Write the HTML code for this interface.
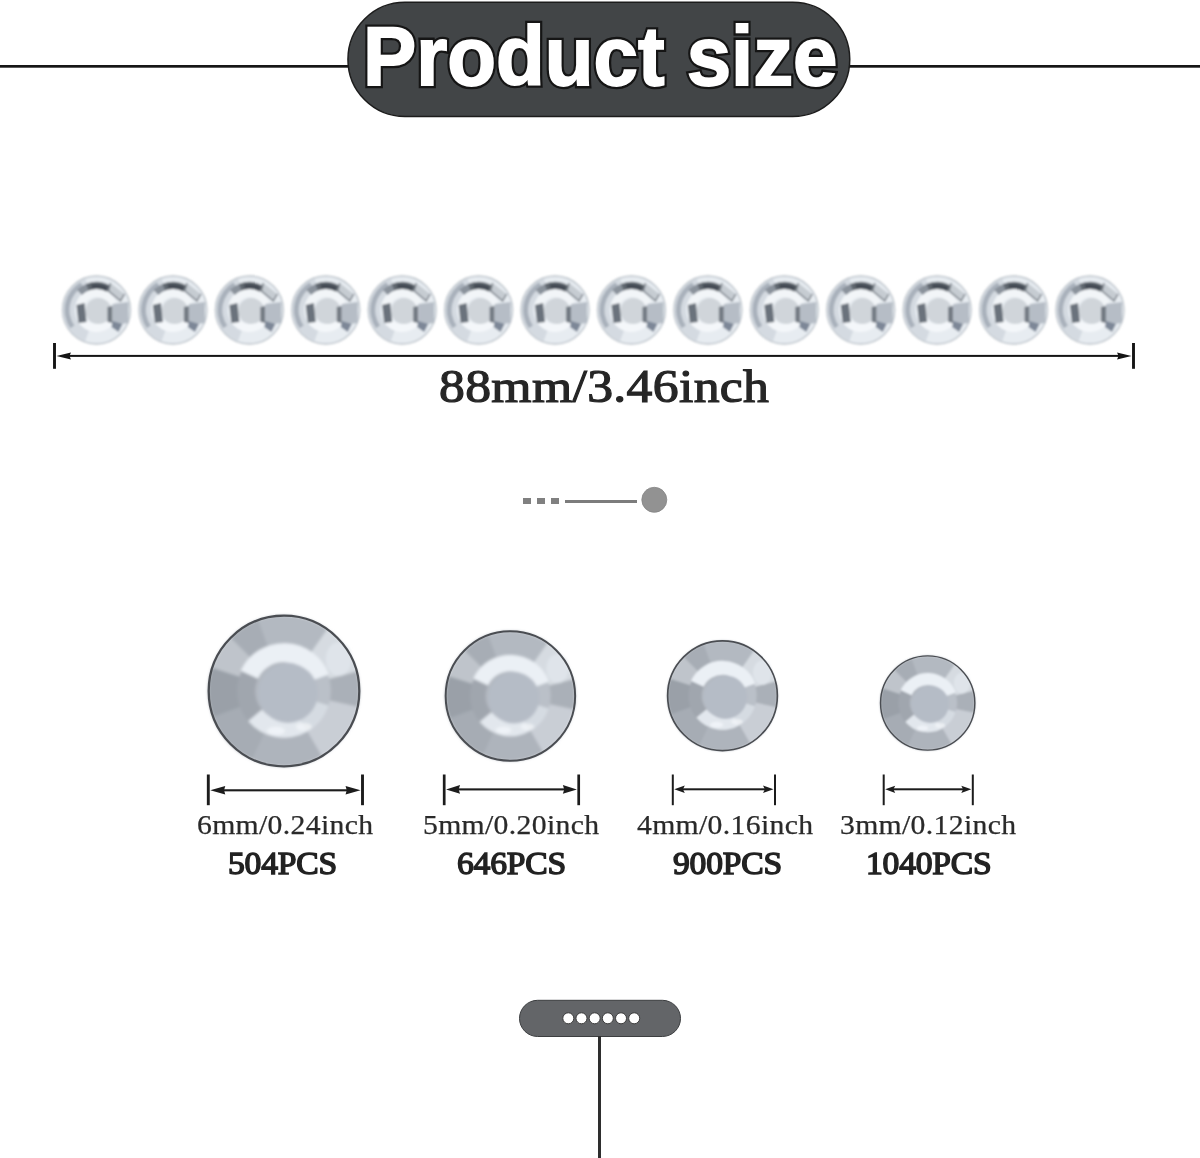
<!DOCTYPE html>
<html><head><meta charset="utf-8">
<style>
html,body{margin:0;padding:0;background:#fff;}
body{width:1200px;height:1158px;position:relative;overflow:hidden;font-family:"Liberation Serif",serif;}
.abs{position:absolute;}
.ttext{position:absolute;font-family:"Liberation Sans",sans-serif;font-weight:bold;font-size:84px;color:#fff;white-space:nowrap;-webkit-text-stroke:2.4px #111;transform:scaleX(0.950);transform-origin:0 0;paint-order:stroke fill;line-height:1;}
.lbl{position:absolute;white-space:nowrap;color:#2a2a2a;line-height:1;transform-origin:0 0;}
.big{font-size:47px;font-weight:normal;color:#262626;letter-spacing:0.3px;-webkit-text-stroke:1.2px #262626;transform:scaleX(1.1);}
.small{font-size:26.5px;letter-spacing:0.3px;transform:scaleX(1.12);-webkit-text-stroke:0.25px #2a2a2a;}
.pcs{font-size:32px;font-weight:normal;color:#222;letter-spacing:-0.2px;-webkit-text-stroke:1.4px #222;transform:scaleX(1.05);}
</style></head><body>
<svg class="abs" style="left:0;top:0" width="1200" height="1158" viewBox="0 0 1200 1158">
<defs>
<filter id="blur1" x="-20%" y="-20%" width="140%" height="140%"><feGaussianBlur stdDeviation="0.9"/></filter>
<filter id="blur2" x="-20%" y="-20%" width="140%" height="140%"><feGaussianBlur stdDeviation="1.6"/></filter>
</defs>
<rect x="0" y="65" width="360" height="2.7" fill="#161616"/><rect x="840" y="65" width="360" height="2.7" fill="#161616"/><rect x="347.95" y="2.35" width="501.8" height="114.1" rx="57" fill="#424547" stroke="#1c1c1c" stroke-width="1.5"/><g transform="translate(96.50,310)">
 <g filter="url(#blur1)">
 <circle cx="0" cy="0" r="34" fill="#e7ecf1" stroke="#bcc3ca" stroke-width="1.3"/>
 <path d="M-11.29,31.01 A33,33 0 0 1 -11.29,-31.01 L-7.52,-20.67 A22,22 0 0 0 -7.52,20.67Z" fill="#d4dae1"/>
 <path d="M-26.21,18.35 A32,32 0 0 1 -16.00,-27.71 L-13.50,-23.38 A27,27 0 0 0 -22.12,15.49Z" fill="#a9b1bb"/>
 <path d="M-20.68,-3.65 A21,21 0 0 1 19.73,-7.18 L12.22,-4.45 A13,13 0 0 0 -12.80,-2.26Z" fill="#f2f5f8"/>
 <path d="M16.85,14.14 A22,22 0 0 1 -19.05,11.00 L-12.12,7.00 A14,14 0 0 0 10.72,9.00Z" fill="#f4f7fa"/>
 <path d="M-19.45,-20.14 A28,28 0 0 1 -9.58,-26.31 L-7.18,-19.73 A21,21 0 0 0 -14.59,-15.11Z" fill="#8a929b"/>
 <path d="M-10.49,-25.96 A28,28 0 0 1 14.00,-24.25 L10.50,-18.19 A21,21 0 0 0 -7.87,-19.47Z" fill="#5f666e"/>
 <path d="M-5.41,-25.43 A26,26 0 0 1 11.40,-23.37 L9.64,-19.77 A22,22 0 0 0 -4.57,-21.52Z" fill="#434a52"/>
 <polygon points="14,-27 28,-16 24,-9 12,-19" fill="#c6ccd2"/>
 <polyline points="14,-27 12,-19 24,-9 28,-16" fill="none" stroke="#737a82" stroke-width="1.4"/>
 <circle cx="2" cy="1" r="13" fill="#d0d5da"/>
 <polygon points="-20,-5 -12,-7 -10,12 -18,13" fill="#6b727b"/>
 <polygon points="11,-3 16,-4 16,13 11,12" fill="#737a83"/>
 <polygon points="16,-6 32,-8 32,13 16,15" fill="#b6bdc6"/>
 <polygon points="16,11 26,14 22,22 15,17" fill="#7d8797"/>
 </g>
</g><g transform="translate(172.92,310)">
 <g filter="url(#blur1)">
 <circle cx="0" cy="0" r="34" fill="#e7ecf1" stroke="#bcc3ca" stroke-width="1.3"/>
 <path d="M-11.29,31.01 A33,33 0 0 1 -11.29,-31.01 L-7.52,-20.67 A22,22 0 0 0 -7.52,20.67Z" fill="#d4dae1"/>
 <path d="M-26.21,18.35 A32,32 0 0 1 -16.00,-27.71 L-13.50,-23.38 A27,27 0 0 0 -22.12,15.49Z" fill="#a9b1bb"/>
 <path d="M-20.68,-3.65 A21,21 0 0 1 19.73,-7.18 L12.22,-4.45 A13,13 0 0 0 -12.80,-2.26Z" fill="#f2f5f8"/>
 <path d="M16.85,14.14 A22,22 0 0 1 -19.05,11.00 L-12.12,7.00 A14,14 0 0 0 10.72,9.00Z" fill="#f4f7fa"/>
 <path d="M-19.45,-20.14 A28,28 0 0 1 -9.58,-26.31 L-7.18,-19.73 A21,21 0 0 0 -14.59,-15.11Z" fill="#8a929b"/>
 <path d="M-10.49,-25.96 A28,28 0 0 1 14.00,-24.25 L10.50,-18.19 A21,21 0 0 0 -7.87,-19.47Z" fill="#5f666e"/>
 <path d="M-5.41,-25.43 A26,26 0 0 1 11.40,-23.37 L9.64,-19.77 A22,22 0 0 0 -4.57,-21.52Z" fill="#434a52"/>
 <polygon points="14,-27 28,-16 24,-9 12,-19" fill="#c6ccd2"/>
 <polyline points="14,-27 12,-19 24,-9 28,-16" fill="none" stroke="#737a82" stroke-width="1.4"/>
 <circle cx="2" cy="1" r="13" fill="#d0d5da"/>
 <polygon points="-20,-5 -12,-7 -10,12 -18,13" fill="#6b727b"/>
 <polygon points="11,-3 16,-4 16,13 11,12" fill="#737a83"/>
 <polygon points="16,-6 32,-8 32,13 16,15" fill="#b6bdc6"/>
 <polygon points="16,11 26,14 22,22 15,17" fill="#7d8797"/>
 </g>
</g><g transform="translate(249.35,310)">
 <g filter="url(#blur1)">
 <circle cx="0" cy="0" r="34" fill="#e7ecf1" stroke="#bcc3ca" stroke-width="1.3"/>
 <path d="M-11.29,31.01 A33,33 0 0 1 -11.29,-31.01 L-7.52,-20.67 A22,22 0 0 0 -7.52,20.67Z" fill="#d4dae1"/>
 <path d="M-26.21,18.35 A32,32 0 0 1 -16.00,-27.71 L-13.50,-23.38 A27,27 0 0 0 -22.12,15.49Z" fill="#a9b1bb"/>
 <path d="M-20.68,-3.65 A21,21 0 0 1 19.73,-7.18 L12.22,-4.45 A13,13 0 0 0 -12.80,-2.26Z" fill="#f2f5f8"/>
 <path d="M16.85,14.14 A22,22 0 0 1 -19.05,11.00 L-12.12,7.00 A14,14 0 0 0 10.72,9.00Z" fill="#f4f7fa"/>
 <path d="M-19.45,-20.14 A28,28 0 0 1 -9.58,-26.31 L-7.18,-19.73 A21,21 0 0 0 -14.59,-15.11Z" fill="#8a929b"/>
 <path d="M-10.49,-25.96 A28,28 0 0 1 14.00,-24.25 L10.50,-18.19 A21,21 0 0 0 -7.87,-19.47Z" fill="#5f666e"/>
 <path d="M-5.41,-25.43 A26,26 0 0 1 11.40,-23.37 L9.64,-19.77 A22,22 0 0 0 -4.57,-21.52Z" fill="#434a52"/>
 <polygon points="14,-27 28,-16 24,-9 12,-19" fill="#c6ccd2"/>
 <polyline points="14,-27 12,-19 24,-9 28,-16" fill="none" stroke="#737a82" stroke-width="1.4"/>
 <circle cx="2" cy="1" r="13" fill="#d0d5da"/>
 <polygon points="-20,-5 -12,-7 -10,12 -18,13" fill="#6b727b"/>
 <polygon points="11,-3 16,-4 16,13 11,12" fill="#737a83"/>
 <polygon points="16,-6 32,-8 32,13 16,15" fill="#b6bdc6"/>
 <polygon points="16,11 26,14 22,22 15,17" fill="#7d8797"/>
 </g>
</g><g transform="translate(325.77,310)">
 <g filter="url(#blur1)">
 <circle cx="0" cy="0" r="34" fill="#e7ecf1" stroke="#bcc3ca" stroke-width="1.3"/>
 <path d="M-11.29,31.01 A33,33 0 0 1 -11.29,-31.01 L-7.52,-20.67 A22,22 0 0 0 -7.52,20.67Z" fill="#d4dae1"/>
 <path d="M-26.21,18.35 A32,32 0 0 1 -16.00,-27.71 L-13.50,-23.38 A27,27 0 0 0 -22.12,15.49Z" fill="#a9b1bb"/>
 <path d="M-20.68,-3.65 A21,21 0 0 1 19.73,-7.18 L12.22,-4.45 A13,13 0 0 0 -12.80,-2.26Z" fill="#f2f5f8"/>
 <path d="M16.85,14.14 A22,22 0 0 1 -19.05,11.00 L-12.12,7.00 A14,14 0 0 0 10.72,9.00Z" fill="#f4f7fa"/>
 <path d="M-19.45,-20.14 A28,28 0 0 1 -9.58,-26.31 L-7.18,-19.73 A21,21 0 0 0 -14.59,-15.11Z" fill="#8a929b"/>
 <path d="M-10.49,-25.96 A28,28 0 0 1 14.00,-24.25 L10.50,-18.19 A21,21 0 0 0 -7.87,-19.47Z" fill="#5f666e"/>
 <path d="M-5.41,-25.43 A26,26 0 0 1 11.40,-23.37 L9.64,-19.77 A22,22 0 0 0 -4.57,-21.52Z" fill="#434a52"/>
 <polygon points="14,-27 28,-16 24,-9 12,-19" fill="#c6ccd2"/>
 <polyline points="14,-27 12,-19 24,-9 28,-16" fill="none" stroke="#737a82" stroke-width="1.4"/>
 <circle cx="2" cy="1" r="13" fill="#d0d5da"/>
 <polygon points="-20,-5 -12,-7 -10,12 -18,13" fill="#6b727b"/>
 <polygon points="11,-3 16,-4 16,13 11,12" fill="#737a83"/>
 <polygon points="16,-6 32,-8 32,13 16,15" fill="#b6bdc6"/>
 <polygon points="16,11 26,14 22,22 15,17" fill="#7d8797"/>
 </g>
</g><g transform="translate(402.19,310)">
 <g filter="url(#blur1)">
 <circle cx="0" cy="0" r="34" fill="#e7ecf1" stroke="#bcc3ca" stroke-width="1.3"/>
 <path d="M-11.29,31.01 A33,33 0 0 1 -11.29,-31.01 L-7.52,-20.67 A22,22 0 0 0 -7.52,20.67Z" fill="#d4dae1"/>
 <path d="M-26.21,18.35 A32,32 0 0 1 -16.00,-27.71 L-13.50,-23.38 A27,27 0 0 0 -22.12,15.49Z" fill="#a9b1bb"/>
 <path d="M-20.68,-3.65 A21,21 0 0 1 19.73,-7.18 L12.22,-4.45 A13,13 0 0 0 -12.80,-2.26Z" fill="#f2f5f8"/>
 <path d="M16.85,14.14 A22,22 0 0 1 -19.05,11.00 L-12.12,7.00 A14,14 0 0 0 10.72,9.00Z" fill="#f4f7fa"/>
 <path d="M-19.45,-20.14 A28,28 0 0 1 -9.58,-26.31 L-7.18,-19.73 A21,21 0 0 0 -14.59,-15.11Z" fill="#8a929b"/>
 <path d="M-10.49,-25.96 A28,28 0 0 1 14.00,-24.25 L10.50,-18.19 A21,21 0 0 0 -7.87,-19.47Z" fill="#5f666e"/>
 <path d="M-5.41,-25.43 A26,26 0 0 1 11.40,-23.37 L9.64,-19.77 A22,22 0 0 0 -4.57,-21.52Z" fill="#434a52"/>
 <polygon points="14,-27 28,-16 24,-9 12,-19" fill="#c6ccd2"/>
 <polyline points="14,-27 12,-19 24,-9 28,-16" fill="none" stroke="#737a82" stroke-width="1.4"/>
 <circle cx="2" cy="1" r="13" fill="#d0d5da"/>
 <polygon points="-20,-5 -12,-7 -10,12 -18,13" fill="#6b727b"/>
 <polygon points="11,-3 16,-4 16,13 11,12" fill="#737a83"/>
 <polygon points="16,-6 32,-8 32,13 16,15" fill="#b6bdc6"/>
 <polygon points="16,11 26,14 22,22 15,17" fill="#7d8797"/>
 </g>
</g><g transform="translate(478.62,310)">
 <g filter="url(#blur1)">
 <circle cx="0" cy="0" r="34" fill="#e7ecf1" stroke="#bcc3ca" stroke-width="1.3"/>
 <path d="M-11.29,31.01 A33,33 0 0 1 -11.29,-31.01 L-7.52,-20.67 A22,22 0 0 0 -7.52,20.67Z" fill="#d4dae1"/>
 <path d="M-26.21,18.35 A32,32 0 0 1 -16.00,-27.71 L-13.50,-23.38 A27,27 0 0 0 -22.12,15.49Z" fill="#a9b1bb"/>
 <path d="M-20.68,-3.65 A21,21 0 0 1 19.73,-7.18 L12.22,-4.45 A13,13 0 0 0 -12.80,-2.26Z" fill="#f2f5f8"/>
 <path d="M16.85,14.14 A22,22 0 0 1 -19.05,11.00 L-12.12,7.00 A14,14 0 0 0 10.72,9.00Z" fill="#f4f7fa"/>
 <path d="M-19.45,-20.14 A28,28 0 0 1 -9.58,-26.31 L-7.18,-19.73 A21,21 0 0 0 -14.59,-15.11Z" fill="#8a929b"/>
 <path d="M-10.49,-25.96 A28,28 0 0 1 14.00,-24.25 L10.50,-18.19 A21,21 0 0 0 -7.87,-19.47Z" fill="#5f666e"/>
 <path d="M-5.41,-25.43 A26,26 0 0 1 11.40,-23.37 L9.64,-19.77 A22,22 0 0 0 -4.57,-21.52Z" fill="#434a52"/>
 <polygon points="14,-27 28,-16 24,-9 12,-19" fill="#c6ccd2"/>
 <polyline points="14,-27 12,-19 24,-9 28,-16" fill="none" stroke="#737a82" stroke-width="1.4"/>
 <circle cx="2" cy="1" r="13" fill="#d0d5da"/>
 <polygon points="-20,-5 -12,-7 -10,12 -18,13" fill="#6b727b"/>
 <polygon points="11,-3 16,-4 16,13 11,12" fill="#737a83"/>
 <polygon points="16,-6 32,-8 32,13 16,15" fill="#b6bdc6"/>
 <polygon points="16,11 26,14 22,22 15,17" fill="#7d8797"/>
 </g>
</g><g transform="translate(555.04,310)">
 <g filter="url(#blur1)">
 <circle cx="0" cy="0" r="34" fill="#e7ecf1" stroke="#bcc3ca" stroke-width="1.3"/>
 <path d="M-11.29,31.01 A33,33 0 0 1 -11.29,-31.01 L-7.52,-20.67 A22,22 0 0 0 -7.52,20.67Z" fill="#d4dae1"/>
 <path d="M-26.21,18.35 A32,32 0 0 1 -16.00,-27.71 L-13.50,-23.38 A27,27 0 0 0 -22.12,15.49Z" fill="#a9b1bb"/>
 <path d="M-20.68,-3.65 A21,21 0 0 1 19.73,-7.18 L12.22,-4.45 A13,13 0 0 0 -12.80,-2.26Z" fill="#f2f5f8"/>
 <path d="M16.85,14.14 A22,22 0 0 1 -19.05,11.00 L-12.12,7.00 A14,14 0 0 0 10.72,9.00Z" fill="#f4f7fa"/>
 <path d="M-19.45,-20.14 A28,28 0 0 1 -9.58,-26.31 L-7.18,-19.73 A21,21 0 0 0 -14.59,-15.11Z" fill="#8a929b"/>
 <path d="M-10.49,-25.96 A28,28 0 0 1 14.00,-24.25 L10.50,-18.19 A21,21 0 0 0 -7.87,-19.47Z" fill="#5f666e"/>
 <path d="M-5.41,-25.43 A26,26 0 0 1 11.40,-23.37 L9.64,-19.77 A22,22 0 0 0 -4.57,-21.52Z" fill="#434a52"/>
 <polygon points="14,-27 28,-16 24,-9 12,-19" fill="#c6ccd2"/>
 <polyline points="14,-27 12,-19 24,-9 28,-16" fill="none" stroke="#737a82" stroke-width="1.4"/>
 <circle cx="2" cy="1" r="13" fill="#d0d5da"/>
 <polygon points="-20,-5 -12,-7 -10,12 -18,13" fill="#6b727b"/>
 <polygon points="11,-3 16,-4 16,13 11,12" fill="#737a83"/>
 <polygon points="16,-6 32,-8 32,13 16,15" fill="#b6bdc6"/>
 <polygon points="16,11 26,14 22,22 15,17" fill="#7d8797"/>
 </g>
</g><g transform="translate(631.46,310)">
 <g filter="url(#blur1)">
 <circle cx="0" cy="0" r="34" fill="#e7ecf1" stroke="#bcc3ca" stroke-width="1.3"/>
 <path d="M-11.29,31.01 A33,33 0 0 1 -11.29,-31.01 L-7.52,-20.67 A22,22 0 0 0 -7.52,20.67Z" fill="#d4dae1"/>
 <path d="M-26.21,18.35 A32,32 0 0 1 -16.00,-27.71 L-13.50,-23.38 A27,27 0 0 0 -22.12,15.49Z" fill="#a9b1bb"/>
 <path d="M-20.68,-3.65 A21,21 0 0 1 19.73,-7.18 L12.22,-4.45 A13,13 0 0 0 -12.80,-2.26Z" fill="#f2f5f8"/>
 <path d="M16.85,14.14 A22,22 0 0 1 -19.05,11.00 L-12.12,7.00 A14,14 0 0 0 10.72,9.00Z" fill="#f4f7fa"/>
 <path d="M-19.45,-20.14 A28,28 0 0 1 -9.58,-26.31 L-7.18,-19.73 A21,21 0 0 0 -14.59,-15.11Z" fill="#8a929b"/>
 <path d="M-10.49,-25.96 A28,28 0 0 1 14.00,-24.25 L10.50,-18.19 A21,21 0 0 0 -7.87,-19.47Z" fill="#5f666e"/>
 <path d="M-5.41,-25.43 A26,26 0 0 1 11.40,-23.37 L9.64,-19.77 A22,22 0 0 0 -4.57,-21.52Z" fill="#434a52"/>
 <polygon points="14,-27 28,-16 24,-9 12,-19" fill="#c6ccd2"/>
 <polyline points="14,-27 12,-19 24,-9 28,-16" fill="none" stroke="#737a82" stroke-width="1.4"/>
 <circle cx="2" cy="1" r="13" fill="#d0d5da"/>
 <polygon points="-20,-5 -12,-7 -10,12 -18,13" fill="#6b727b"/>
 <polygon points="11,-3 16,-4 16,13 11,12" fill="#737a83"/>
 <polygon points="16,-6 32,-8 32,13 16,15" fill="#b6bdc6"/>
 <polygon points="16,11 26,14 22,22 15,17" fill="#7d8797"/>
 </g>
</g><g transform="translate(707.88,310)">
 <g filter="url(#blur1)">
 <circle cx="0" cy="0" r="34" fill="#e7ecf1" stroke="#bcc3ca" stroke-width="1.3"/>
 <path d="M-11.29,31.01 A33,33 0 0 1 -11.29,-31.01 L-7.52,-20.67 A22,22 0 0 0 -7.52,20.67Z" fill="#d4dae1"/>
 <path d="M-26.21,18.35 A32,32 0 0 1 -16.00,-27.71 L-13.50,-23.38 A27,27 0 0 0 -22.12,15.49Z" fill="#a9b1bb"/>
 <path d="M-20.68,-3.65 A21,21 0 0 1 19.73,-7.18 L12.22,-4.45 A13,13 0 0 0 -12.80,-2.26Z" fill="#f2f5f8"/>
 <path d="M16.85,14.14 A22,22 0 0 1 -19.05,11.00 L-12.12,7.00 A14,14 0 0 0 10.72,9.00Z" fill="#f4f7fa"/>
 <path d="M-19.45,-20.14 A28,28 0 0 1 -9.58,-26.31 L-7.18,-19.73 A21,21 0 0 0 -14.59,-15.11Z" fill="#8a929b"/>
 <path d="M-10.49,-25.96 A28,28 0 0 1 14.00,-24.25 L10.50,-18.19 A21,21 0 0 0 -7.87,-19.47Z" fill="#5f666e"/>
 <path d="M-5.41,-25.43 A26,26 0 0 1 11.40,-23.37 L9.64,-19.77 A22,22 0 0 0 -4.57,-21.52Z" fill="#434a52"/>
 <polygon points="14,-27 28,-16 24,-9 12,-19" fill="#c6ccd2"/>
 <polyline points="14,-27 12,-19 24,-9 28,-16" fill="none" stroke="#737a82" stroke-width="1.4"/>
 <circle cx="2" cy="1" r="13" fill="#d0d5da"/>
 <polygon points="-20,-5 -12,-7 -10,12 -18,13" fill="#6b727b"/>
 <polygon points="11,-3 16,-4 16,13 11,12" fill="#737a83"/>
 <polygon points="16,-6 32,-8 32,13 16,15" fill="#b6bdc6"/>
 <polygon points="16,11 26,14 22,22 15,17" fill="#7d8797"/>
 </g>
</g><g transform="translate(784.31,310)">
 <g filter="url(#blur1)">
 <circle cx="0" cy="0" r="34" fill="#e7ecf1" stroke="#bcc3ca" stroke-width="1.3"/>
 <path d="M-11.29,31.01 A33,33 0 0 1 -11.29,-31.01 L-7.52,-20.67 A22,22 0 0 0 -7.52,20.67Z" fill="#d4dae1"/>
 <path d="M-26.21,18.35 A32,32 0 0 1 -16.00,-27.71 L-13.50,-23.38 A27,27 0 0 0 -22.12,15.49Z" fill="#a9b1bb"/>
 <path d="M-20.68,-3.65 A21,21 0 0 1 19.73,-7.18 L12.22,-4.45 A13,13 0 0 0 -12.80,-2.26Z" fill="#f2f5f8"/>
 <path d="M16.85,14.14 A22,22 0 0 1 -19.05,11.00 L-12.12,7.00 A14,14 0 0 0 10.72,9.00Z" fill="#f4f7fa"/>
 <path d="M-19.45,-20.14 A28,28 0 0 1 -9.58,-26.31 L-7.18,-19.73 A21,21 0 0 0 -14.59,-15.11Z" fill="#8a929b"/>
 <path d="M-10.49,-25.96 A28,28 0 0 1 14.00,-24.25 L10.50,-18.19 A21,21 0 0 0 -7.87,-19.47Z" fill="#5f666e"/>
 <path d="M-5.41,-25.43 A26,26 0 0 1 11.40,-23.37 L9.64,-19.77 A22,22 0 0 0 -4.57,-21.52Z" fill="#434a52"/>
 <polygon points="14,-27 28,-16 24,-9 12,-19" fill="#c6ccd2"/>
 <polyline points="14,-27 12,-19 24,-9 28,-16" fill="none" stroke="#737a82" stroke-width="1.4"/>
 <circle cx="2" cy="1" r="13" fill="#d0d5da"/>
 <polygon points="-20,-5 -12,-7 -10,12 -18,13" fill="#6b727b"/>
 <polygon points="11,-3 16,-4 16,13 11,12" fill="#737a83"/>
 <polygon points="16,-6 32,-8 32,13 16,15" fill="#b6bdc6"/>
 <polygon points="16,11 26,14 22,22 15,17" fill="#7d8797"/>
 </g>
</g><g transform="translate(860.73,310)">
 <g filter="url(#blur1)">
 <circle cx="0" cy="0" r="34" fill="#e7ecf1" stroke="#bcc3ca" stroke-width="1.3"/>
 <path d="M-11.29,31.01 A33,33 0 0 1 -11.29,-31.01 L-7.52,-20.67 A22,22 0 0 0 -7.52,20.67Z" fill="#d4dae1"/>
 <path d="M-26.21,18.35 A32,32 0 0 1 -16.00,-27.71 L-13.50,-23.38 A27,27 0 0 0 -22.12,15.49Z" fill="#a9b1bb"/>
 <path d="M-20.68,-3.65 A21,21 0 0 1 19.73,-7.18 L12.22,-4.45 A13,13 0 0 0 -12.80,-2.26Z" fill="#f2f5f8"/>
 <path d="M16.85,14.14 A22,22 0 0 1 -19.05,11.00 L-12.12,7.00 A14,14 0 0 0 10.72,9.00Z" fill="#f4f7fa"/>
 <path d="M-19.45,-20.14 A28,28 0 0 1 -9.58,-26.31 L-7.18,-19.73 A21,21 0 0 0 -14.59,-15.11Z" fill="#8a929b"/>
 <path d="M-10.49,-25.96 A28,28 0 0 1 14.00,-24.25 L10.50,-18.19 A21,21 0 0 0 -7.87,-19.47Z" fill="#5f666e"/>
 <path d="M-5.41,-25.43 A26,26 0 0 1 11.40,-23.37 L9.64,-19.77 A22,22 0 0 0 -4.57,-21.52Z" fill="#434a52"/>
 <polygon points="14,-27 28,-16 24,-9 12,-19" fill="#c6ccd2"/>
 <polyline points="14,-27 12,-19 24,-9 28,-16" fill="none" stroke="#737a82" stroke-width="1.4"/>
 <circle cx="2" cy="1" r="13" fill="#d0d5da"/>
 <polygon points="-20,-5 -12,-7 -10,12 -18,13" fill="#6b727b"/>
 <polygon points="11,-3 16,-4 16,13 11,12" fill="#737a83"/>
 <polygon points="16,-6 32,-8 32,13 16,15" fill="#b6bdc6"/>
 <polygon points="16,11 26,14 22,22 15,17" fill="#7d8797"/>
 </g>
</g><g transform="translate(937.15,310)">
 <g filter="url(#blur1)">
 <circle cx="0" cy="0" r="34" fill="#e7ecf1" stroke="#bcc3ca" stroke-width="1.3"/>
 <path d="M-11.29,31.01 A33,33 0 0 1 -11.29,-31.01 L-7.52,-20.67 A22,22 0 0 0 -7.52,20.67Z" fill="#d4dae1"/>
 <path d="M-26.21,18.35 A32,32 0 0 1 -16.00,-27.71 L-13.50,-23.38 A27,27 0 0 0 -22.12,15.49Z" fill="#a9b1bb"/>
 <path d="M-20.68,-3.65 A21,21 0 0 1 19.73,-7.18 L12.22,-4.45 A13,13 0 0 0 -12.80,-2.26Z" fill="#f2f5f8"/>
 <path d="M16.85,14.14 A22,22 0 0 1 -19.05,11.00 L-12.12,7.00 A14,14 0 0 0 10.72,9.00Z" fill="#f4f7fa"/>
 <path d="M-19.45,-20.14 A28,28 0 0 1 -9.58,-26.31 L-7.18,-19.73 A21,21 0 0 0 -14.59,-15.11Z" fill="#8a929b"/>
 <path d="M-10.49,-25.96 A28,28 0 0 1 14.00,-24.25 L10.50,-18.19 A21,21 0 0 0 -7.87,-19.47Z" fill="#5f666e"/>
 <path d="M-5.41,-25.43 A26,26 0 0 1 11.40,-23.37 L9.64,-19.77 A22,22 0 0 0 -4.57,-21.52Z" fill="#434a52"/>
 <polygon points="14,-27 28,-16 24,-9 12,-19" fill="#c6ccd2"/>
 <polyline points="14,-27 12,-19 24,-9 28,-16" fill="none" stroke="#737a82" stroke-width="1.4"/>
 <circle cx="2" cy="1" r="13" fill="#d0d5da"/>
 <polygon points="-20,-5 -12,-7 -10,12 -18,13" fill="#6b727b"/>
 <polygon points="11,-3 16,-4 16,13 11,12" fill="#737a83"/>
 <polygon points="16,-6 32,-8 32,13 16,15" fill="#b6bdc6"/>
 <polygon points="16,11 26,14 22,22 15,17" fill="#7d8797"/>
 </g>
</g><g transform="translate(1013.58,310)">
 <g filter="url(#blur1)">
 <circle cx="0" cy="0" r="34" fill="#e7ecf1" stroke="#bcc3ca" stroke-width="1.3"/>
 <path d="M-11.29,31.01 A33,33 0 0 1 -11.29,-31.01 L-7.52,-20.67 A22,22 0 0 0 -7.52,20.67Z" fill="#d4dae1"/>
 <path d="M-26.21,18.35 A32,32 0 0 1 -16.00,-27.71 L-13.50,-23.38 A27,27 0 0 0 -22.12,15.49Z" fill="#a9b1bb"/>
 <path d="M-20.68,-3.65 A21,21 0 0 1 19.73,-7.18 L12.22,-4.45 A13,13 0 0 0 -12.80,-2.26Z" fill="#f2f5f8"/>
 <path d="M16.85,14.14 A22,22 0 0 1 -19.05,11.00 L-12.12,7.00 A14,14 0 0 0 10.72,9.00Z" fill="#f4f7fa"/>
 <path d="M-19.45,-20.14 A28,28 0 0 1 -9.58,-26.31 L-7.18,-19.73 A21,21 0 0 0 -14.59,-15.11Z" fill="#8a929b"/>
 <path d="M-10.49,-25.96 A28,28 0 0 1 14.00,-24.25 L10.50,-18.19 A21,21 0 0 0 -7.87,-19.47Z" fill="#5f666e"/>
 <path d="M-5.41,-25.43 A26,26 0 0 1 11.40,-23.37 L9.64,-19.77 A22,22 0 0 0 -4.57,-21.52Z" fill="#434a52"/>
 <polygon points="14,-27 28,-16 24,-9 12,-19" fill="#c6ccd2"/>
 <polyline points="14,-27 12,-19 24,-9 28,-16" fill="none" stroke="#737a82" stroke-width="1.4"/>
 <circle cx="2" cy="1" r="13" fill="#d0d5da"/>
 <polygon points="-20,-5 -12,-7 -10,12 -18,13" fill="#6b727b"/>
 <polygon points="11,-3 16,-4 16,13 11,12" fill="#737a83"/>
 <polygon points="16,-6 32,-8 32,13 16,15" fill="#b6bdc6"/>
 <polygon points="16,11 26,14 22,22 15,17" fill="#7d8797"/>
 </g>
</g><g transform="translate(1090.00,310)">
 <g filter="url(#blur1)">
 <circle cx="0" cy="0" r="34" fill="#e7ecf1" stroke="#bcc3ca" stroke-width="1.3"/>
 <path d="M-11.29,31.01 A33,33 0 0 1 -11.29,-31.01 L-7.52,-20.67 A22,22 0 0 0 -7.52,20.67Z" fill="#d4dae1"/>
 <path d="M-26.21,18.35 A32,32 0 0 1 -16.00,-27.71 L-13.50,-23.38 A27,27 0 0 0 -22.12,15.49Z" fill="#a9b1bb"/>
 <path d="M-20.68,-3.65 A21,21 0 0 1 19.73,-7.18 L12.22,-4.45 A13,13 0 0 0 -12.80,-2.26Z" fill="#f2f5f8"/>
 <path d="M16.85,14.14 A22,22 0 0 1 -19.05,11.00 L-12.12,7.00 A14,14 0 0 0 10.72,9.00Z" fill="#f4f7fa"/>
 <path d="M-19.45,-20.14 A28,28 0 0 1 -9.58,-26.31 L-7.18,-19.73 A21,21 0 0 0 -14.59,-15.11Z" fill="#8a929b"/>
 <path d="M-10.49,-25.96 A28,28 0 0 1 14.00,-24.25 L10.50,-18.19 A21,21 0 0 0 -7.87,-19.47Z" fill="#5f666e"/>
 <path d="M-5.41,-25.43 A26,26 0 0 1 11.40,-23.37 L9.64,-19.77 A22,22 0 0 0 -4.57,-21.52Z" fill="#434a52"/>
 <polygon points="14,-27 28,-16 24,-9 12,-19" fill="#c6ccd2"/>
 <polyline points="14,-27 12,-19 24,-9 28,-16" fill="none" stroke="#737a82" stroke-width="1.4"/>
 <circle cx="2" cy="1" r="13" fill="#d0d5da"/>
 <polygon points="-20,-5 -12,-7 -10,12 -18,13" fill="#6b727b"/>
 <polygon points="11,-3 16,-4 16,13 11,12" fill="#737a83"/>
 <polygon points="16,-6 32,-8 32,13 16,15" fill="#b6bdc6"/>
 <polygon points="16,11 26,14 22,22 15,17" fill="#7d8797"/>
 </g>
</g><rect x="53.05" y="343" width="2.9" height="25.80000000000001" fill="#141414"/><rect x="1132.05" y="343" width="2.9" height="25.80000000000001" fill="#141414"/><rect x="66.10" y="354.90" width="1055.80" height="2" fill="#141414"/><polygon points="56.45,355.9 70.95,352.4 69.50,355.9 70.95,359.4" fill="#141414"/><polygon points="1131.55,355.9 1117.05,352.4 1118.50,355.9 1117.05,359.4" fill="#141414"/><rect x="523" y="498" width="8" height="6" fill="#808080"/><rect x="537" y="498" width="8" height="6" fill="#808080"/><rect x="551" y="498" width="8" height="6" fill="#808080"/><rect x="565" y="500" width="72" height="3" fill="#7c7c7c"/><circle cx="654.3" cy="499.8" r="12.5" fill="#929292" stroke="#858585" stroke-width="0.8"/><g transform="translate(284,691) scale(0.9961)">

 <g filter="url(#blur2)">
 <circle cx="0" cy="0" r="75.5" fill="#b2b8c0"/>
 <path d="M-25.99,-71.42 A76,76 0 0 1 43.59,-62.26 L26.38,-37.68 A46,46 0 0 0 -15.73,-43.23Z" fill="#b3b9c1"/>
 <path d="M43.59,-62.26 A76,76 0 0 1 73.41,-19.67 L44.43,-11.91 A46,46 0 0 0 26.38,-37.68Z" fill="#d6dbe1"/>
 <path d="M73.41,-19.67 A76,76 0 0 1 74.34,15.80 L43.04,9.15 A44,44 0 0 0 42.50,-11.39Z" fill="#aab0b8"/>
 <path d="M74.34,15.80 A76,76 0 0 1 38.00,65.82 L22.00,38.11 A44,44 0 0 0 43.04,9.15Z" fill="#c9ced5"/>
 <path d="M38.00,65.82 A76,76 0 0 1 -32.12,68.88 L-18.60,39.88 A44,44 0 0 0 22.00,38.11Z" fill="#aeb4bc"/>
 <path d="M-32.12,68.88 A76,76 0 0 1 -71.42,25.99 L-41.35,15.05 A44,44 0 0 0 -18.60,39.88Z" fill="#a6acb4"/>
 <path d="M-71.42,25.99 A76,76 0 0 1 -72.28,-23.49 L-41.85,-13.60 A44,44 0 0 0 -41.35,15.05Z" fill="#9aa0a8"/>
 <path d="M-72.28,-23.49 A76,76 0 0 1 -53.74,-53.74 L-31.11,-31.11 A44,44 0 0 0 -41.85,-13.60Z" fill="#bfc4cb"/>
 <path d="M-53.74,-53.74 A76,76 0 0 1 -25.99,-71.42 L-15.73,-43.23 A46,46 0 0 0 -32.53,-32.53Z" fill="#a7adb5"/>
 <path d="M-43.50,-20.29 A48,48 0 0 1 45.11,-16.42 L27.25,-9.92 A29,29 0 0 0 -26.28,-12.26Z" fill="#ebf0f5"/>
 <path d="M44.17,-16.07 A47,47 0 0 1 44.70,14.52 L27.58,8.96 A29,29 0 0 0 27.25,-9.92Z" fill="#bac0c8"/>
 <path d="M44.70,14.52 A47,47 0 0 1 23.50,40.70 L14.50,25.11 A29,29 0 0 0 27.58,8.96Z" fill="#d5dbe2"/>
 <path d="M23.50,40.70 A47,47 0 0 1 -36.00,30.21 L-22.22,18.64 A29,29 0 0 0 14.50,25.11Z" fill="#e2e7ed"/>
 <path d="M-36.00,30.21 A47,47 0 0 1 -42.60,-19.86 L-26.28,-12.26 A29,29 0 0 0 -22.22,18.64Z" fill="#a0a6ae"/>
 <circle cx="4" cy="2" r="30" fill="#b5bcc6"/>
 <ellipse cx="55" cy="-32" rx="13" ry="17" fill="#e2e7ec" opacity="0.75"/>
 <ellipse cx="-8" cy="40" rx="9" ry="4" fill="#f3f6fa" opacity="0.8"/>
 <ellipse cx="20" cy="36" rx="8" ry="4" fill="#f3f6fa" opacity="0.7"/>
 </g>
 <circle cx="0" cy="0" r="75.6" fill="none" stroke="#4a4d52" stroke-width="2.3"/>
</g><g transform="translate(510.4,696) scale(0.8562)">

 <g filter="url(#blur2)">
 <circle cx="0" cy="0" r="75.5" fill="#b2b8c0"/>
 <path d="M-25.99,-71.42 A76,76 0 0 1 43.59,-62.26 L26.38,-37.68 A46,46 0 0 0 -15.73,-43.23Z" fill="#b3b9c1"/>
 <path d="M43.59,-62.26 A76,76 0 0 1 73.41,-19.67 L44.43,-11.91 A46,46 0 0 0 26.38,-37.68Z" fill="#d6dbe1"/>
 <path d="M73.41,-19.67 A76,76 0 0 1 74.34,15.80 L43.04,9.15 A44,44 0 0 0 42.50,-11.39Z" fill="#aab0b8"/>
 <path d="M74.34,15.80 A76,76 0 0 1 38.00,65.82 L22.00,38.11 A44,44 0 0 0 43.04,9.15Z" fill="#c9ced5"/>
 <path d="M38.00,65.82 A76,76 0 0 1 -32.12,68.88 L-18.60,39.88 A44,44 0 0 0 22.00,38.11Z" fill="#aeb4bc"/>
 <path d="M-32.12,68.88 A76,76 0 0 1 -71.42,25.99 L-41.35,15.05 A44,44 0 0 0 -18.60,39.88Z" fill="#a6acb4"/>
 <path d="M-71.42,25.99 A76,76 0 0 1 -72.28,-23.49 L-41.85,-13.60 A44,44 0 0 0 -41.35,15.05Z" fill="#9aa0a8"/>
 <path d="M-72.28,-23.49 A76,76 0 0 1 -53.74,-53.74 L-31.11,-31.11 A44,44 0 0 0 -41.85,-13.60Z" fill="#bfc4cb"/>
 <path d="M-53.74,-53.74 A76,76 0 0 1 -25.99,-71.42 L-15.73,-43.23 A46,46 0 0 0 -32.53,-32.53Z" fill="#a7adb5"/>
 <path d="M-43.50,-20.29 A48,48 0 0 1 45.11,-16.42 L27.25,-9.92 A29,29 0 0 0 -26.28,-12.26Z" fill="#ebf0f5"/>
 <path d="M44.17,-16.07 A47,47 0 0 1 44.70,14.52 L27.58,8.96 A29,29 0 0 0 27.25,-9.92Z" fill="#bac0c8"/>
 <path d="M44.70,14.52 A47,47 0 0 1 23.50,40.70 L14.50,25.11 A29,29 0 0 0 27.58,8.96Z" fill="#d5dbe2"/>
 <path d="M23.50,40.70 A47,47 0 0 1 -36.00,30.21 L-22.22,18.64 A29,29 0 0 0 14.50,25.11Z" fill="#e2e7ed"/>
 <path d="M-36.00,30.21 A47,47 0 0 1 -42.60,-19.86 L-26.28,-12.26 A29,29 0 0 0 -22.22,18.64Z" fill="#a0a6ae"/>
 <circle cx="4" cy="2" r="30" fill="#b5bcc6"/>
 <ellipse cx="55" cy="-32" rx="13" ry="17" fill="#e2e7ec" opacity="0.75"/>
 <ellipse cx="-8" cy="40" rx="9" ry="4" fill="#f3f6fa" opacity="0.8"/>
 <ellipse cx="20" cy="36" rx="8" ry="4" fill="#f3f6fa" opacity="0.7"/>
 </g>
 <circle cx="0" cy="0" r="75.6" fill="none" stroke="#4a4d52" stroke-width="2.3"/>
</g><g transform="translate(722.5,695.7) scale(0.7255)">

 <g filter="url(#blur2)">
 <circle cx="0" cy="0" r="75.5" fill="#b2b8c0"/>
 <path d="M-25.99,-71.42 A76,76 0 0 1 43.59,-62.26 L26.38,-37.68 A46,46 0 0 0 -15.73,-43.23Z" fill="#b3b9c1"/>
 <path d="M43.59,-62.26 A76,76 0 0 1 73.41,-19.67 L44.43,-11.91 A46,46 0 0 0 26.38,-37.68Z" fill="#d6dbe1"/>
 <path d="M73.41,-19.67 A76,76 0 0 1 74.34,15.80 L43.04,9.15 A44,44 0 0 0 42.50,-11.39Z" fill="#aab0b8"/>
 <path d="M74.34,15.80 A76,76 0 0 1 38.00,65.82 L22.00,38.11 A44,44 0 0 0 43.04,9.15Z" fill="#c9ced5"/>
 <path d="M38.00,65.82 A76,76 0 0 1 -32.12,68.88 L-18.60,39.88 A44,44 0 0 0 22.00,38.11Z" fill="#aeb4bc"/>
 <path d="M-32.12,68.88 A76,76 0 0 1 -71.42,25.99 L-41.35,15.05 A44,44 0 0 0 -18.60,39.88Z" fill="#a6acb4"/>
 <path d="M-71.42,25.99 A76,76 0 0 1 -72.28,-23.49 L-41.85,-13.60 A44,44 0 0 0 -41.35,15.05Z" fill="#9aa0a8"/>
 <path d="M-72.28,-23.49 A76,76 0 0 1 -53.74,-53.74 L-31.11,-31.11 A44,44 0 0 0 -41.85,-13.60Z" fill="#bfc4cb"/>
 <path d="M-53.74,-53.74 A76,76 0 0 1 -25.99,-71.42 L-15.73,-43.23 A46,46 0 0 0 -32.53,-32.53Z" fill="#a7adb5"/>
 <path d="M-43.50,-20.29 A48,48 0 0 1 45.11,-16.42 L27.25,-9.92 A29,29 0 0 0 -26.28,-12.26Z" fill="#ebf0f5"/>
 <path d="M44.17,-16.07 A47,47 0 0 1 44.70,14.52 L27.58,8.96 A29,29 0 0 0 27.25,-9.92Z" fill="#bac0c8"/>
 <path d="M44.70,14.52 A47,47 0 0 1 23.50,40.70 L14.50,25.11 A29,29 0 0 0 27.58,8.96Z" fill="#d5dbe2"/>
 <path d="M23.50,40.70 A47,47 0 0 1 -36.00,30.21 L-22.22,18.64 A29,29 0 0 0 14.50,25.11Z" fill="#e2e7ed"/>
 <path d="M-36.00,30.21 A47,47 0 0 1 -42.60,-19.86 L-26.28,-12.26 A29,29 0 0 0 -22.22,18.64Z" fill="#a0a6ae"/>
 <circle cx="4" cy="2" r="30" fill="#b5bcc6"/>
 <ellipse cx="55" cy="-32" rx="13" ry="17" fill="#e2e7ec" opacity="0.75"/>
 <ellipse cx="-8" cy="40" rx="9" ry="4" fill="#f3f6fa" opacity="0.8"/>
 <ellipse cx="20" cy="36" rx="8" ry="4" fill="#f3f6fa" opacity="0.7"/>
 </g>
 <circle cx="0" cy="0" r="75.6" fill="none" stroke="#4a4d52" stroke-width="2.3"/>
</g><g transform="translate(927.7,703) scale(0.6235)">

 <g filter="url(#blur2)">
 <circle cx="0" cy="0" r="75.5" fill="#b2b8c0"/>
 <path d="M-25.99,-71.42 A76,76 0 0 1 43.59,-62.26 L26.38,-37.68 A46,46 0 0 0 -15.73,-43.23Z" fill="#b3b9c1"/>
 <path d="M43.59,-62.26 A76,76 0 0 1 73.41,-19.67 L44.43,-11.91 A46,46 0 0 0 26.38,-37.68Z" fill="#d6dbe1"/>
 <path d="M73.41,-19.67 A76,76 0 0 1 74.34,15.80 L43.04,9.15 A44,44 0 0 0 42.50,-11.39Z" fill="#aab0b8"/>
 <path d="M74.34,15.80 A76,76 0 0 1 38.00,65.82 L22.00,38.11 A44,44 0 0 0 43.04,9.15Z" fill="#c9ced5"/>
 <path d="M38.00,65.82 A76,76 0 0 1 -32.12,68.88 L-18.60,39.88 A44,44 0 0 0 22.00,38.11Z" fill="#aeb4bc"/>
 <path d="M-32.12,68.88 A76,76 0 0 1 -71.42,25.99 L-41.35,15.05 A44,44 0 0 0 -18.60,39.88Z" fill="#a6acb4"/>
 <path d="M-71.42,25.99 A76,76 0 0 1 -72.28,-23.49 L-41.85,-13.60 A44,44 0 0 0 -41.35,15.05Z" fill="#9aa0a8"/>
 <path d="M-72.28,-23.49 A76,76 0 0 1 -53.74,-53.74 L-31.11,-31.11 A44,44 0 0 0 -41.85,-13.60Z" fill="#bfc4cb"/>
 <path d="M-53.74,-53.74 A76,76 0 0 1 -25.99,-71.42 L-15.73,-43.23 A46,46 0 0 0 -32.53,-32.53Z" fill="#a7adb5"/>
 <path d="M-43.50,-20.29 A48,48 0 0 1 45.11,-16.42 L27.25,-9.92 A29,29 0 0 0 -26.28,-12.26Z" fill="#ebf0f5"/>
 <path d="M44.17,-16.07 A47,47 0 0 1 44.70,14.52 L27.58,8.96 A29,29 0 0 0 27.25,-9.92Z" fill="#bac0c8"/>
 <path d="M44.70,14.52 A47,47 0 0 1 23.50,40.70 L14.50,25.11 A29,29 0 0 0 27.58,8.96Z" fill="#d5dbe2"/>
 <path d="M23.50,40.70 A47,47 0 0 1 -36.00,30.21 L-22.22,18.64 A29,29 0 0 0 14.50,25.11Z" fill="#e2e7ed"/>
 <path d="M-36.00,30.21 A47,47 0 0 1 -42.60,-19.86 L-26.28,-12.26 A29,29 0 0 0 -22.22,18.64Z" fill="#a0a6ae"/>
 <circle cx="4" cy="2" r="30" fill="#b5bcc6"/>
 <ellipse cx="55" cy="-32" rx="13" ry="17" fill="#e2e7ec" opacity="0.75"/>
 <ellipse cx="-8" cy="40" rx="9" ry="4" fill="#f3f6fa" opacity="0.8"/>
 <ellipse cx="20" cy="36" rx="8" ry="4" fill="#f3f6fa" opacity="0.7"/>
 </g>
 <circle cx="0" cy="0" r="75.6" fill="none" stroke="#4a4d52" stroke-width="2.3"/>
</g><rect x="206.85" y="774.5" width="2.9" height="30.700000000000045" fill="#1c1c1c"/><rect x="361.05" y="774.5" width="2.9" height="30.700000000000045" fill="#1c1c1c"/><rect x="220.25" y="789.25" width="130.30" height="2.1" fill="#1c1c1c"/><polygon points="210.25,790.3 225.25,786.0 224.05,790.3 225.25,794.5999999999999" fill="#1c1c1c"/><polygon points="360.55,790.3 345.55,786.0 346.75,790.3 345.55,794.5999999999999" fill="#1c1c1c"/><rect x="442.85" y="774.5" width="2.7" height="30.700000000000045" fill="#1c1c1c"/><rect x="577.35" y="774.5" width="2.7" height="30.700000000000045" fill="#1c1c1c"/><rect x="455.35" y="788.35" width="112.20" height="2.1" fill="#1c1c1c"/><polygon points="446.05,789.4 460.05,785.1 458.65,789.4 460.05,793.6999999999999" fill="#1c1c1c"/><polygon points="576.85,789.4 562.85,785.1 564.25,789.4 562.85,793.6999999999999" fill="#1c1c1c"/><rect x="671.80" y="774.5" width="2.0" height="30.700000000000045" fill="#1c1c1c"/><rect x="774.00" y="774.5" width="2.0" height="30.700000000000045" fill="#1c1c1c"/><rect x="681.15" y="788.30" width="85.50" height="2.0" fill="#1c1c1c"/><polygon points="674.30,789.3 684.80,785.5999999999999 682.91,789.3 684.80,793.0" fill="#1c1c1c"/><polygon points="773.50,789.3 763.00,785.5999999999999 764.89,789.3 763.00,793.0" fill="#1c1c1c"/><rect x="882.70" y="774.5" width="2.0" height="30.700000000000045" fill="#1c1c1c"/><rect x="971.80" y="774.5" width="2.0" height="30.700000000000045" fill="#1c1c1c"/><rect x="891.70" y="788.30" width="73.10" height="2.0" fill="#1c1c1c"/><polygon points="885.20,789.3 895.20,785.6999999999999 893.40,789.3 895.20,792.9" fill="#1c1c1c"/><polygon points="971.30,789.3 961.30,785.6999999999999 963.10,789.3 961.30,792.9" fill="#1c1c1c"/><rect x="519.5" y="1000.3" width="161" height="36.2" rx="18.1" fill="#636568" stroke="#3c3e40" stroke-width="1"/><circle cx="568.30" cy="1018.3" r="5.5" fill="#fff" stroke="#303030" stroke-width="0.9"/><circle cx="581.48" cy="1018.3" r="5.5" fill="#fff" stroke="#303030" stroke-width="0.9"/><circle cx="594.66" cy="1018.3" r="5.5" fill="#fff" stroke="#303030" stroke-width="0.9"/><circle cx="607.84" cy="1018.3" r="5.5" fill="#fff" stroke="#303030" stroke-width="0.9"/><circle cx="621.02" cy="1018.3" r="5.5" fill="#fff" stroke="#303030" stroke-width="0.9"/><circle cx="634.20" cy="1018.3" r="5.5" fill="#fff" stroke="#303030" stroke-width="0.9"/><rect x="598" y="1036" width="3" height="122" fill="#2e2e2e"/>
</svg>

<div class="ttext" style="left:363px;top:14px;-webkit-text-stroke:6.5px #151515;">Product size</div>
<div class="ttext" style="left:363px;top:14px;-webkit-text-stroke:1.8px #fff;">Product size</div>
<div class="lbl big" style="left:438.6px;top:363px;">88mm/3.46inch</div>
<div class="lbl small" style="left:197px;top:812px;">6mm/0.24inch</div>
<div class="lbl small" style="left:422.5px;top:812px;">5mm/0.20inch</div>
<div class="lbl small" style="left:636.5px;top:812px;">4mm/0.16inch</div>
<div class="lbl small" style="left:840.3px;top:812px;">3mm/0.12inch</div>
<div class="lbl pcs" style="left:227.5px;top:846.6px;">504PCS</div>
<div class="lbl pcs" style="left:457px;top:846.6px;">646PCS</div>
<div class="lbl pcs" style="left:673px;top:846.6px;">900PCS</div>
<div class="lbl pcs" style="left:866px;top:846.6px;">1040PCS</div>

</body></html>
